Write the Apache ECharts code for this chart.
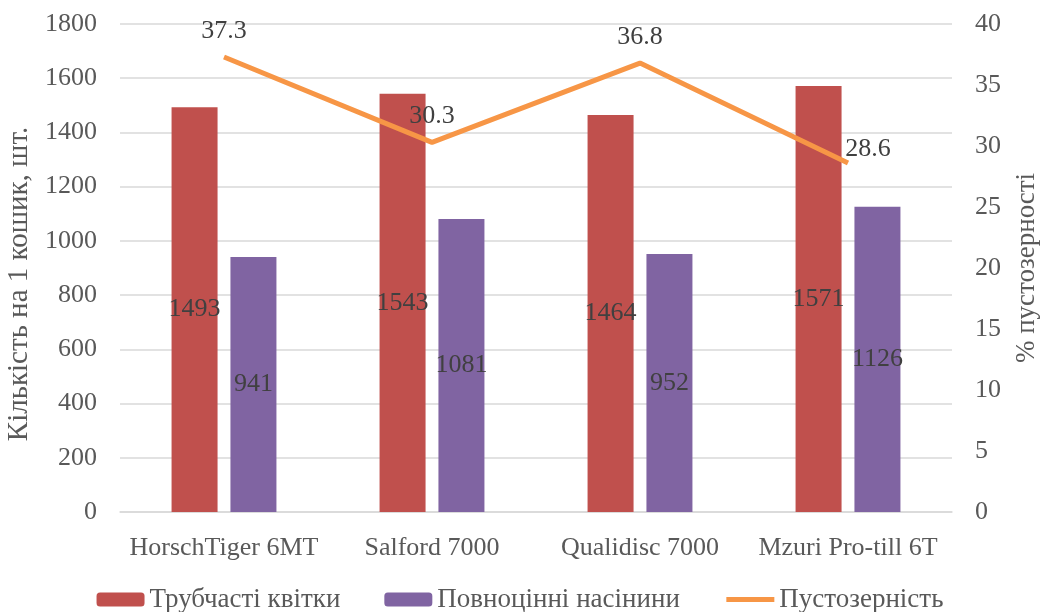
<!DOCTYPE html>
<html><head><meta charset="utf-8">
<script src="https://cdn.jsdelivr.net/npm/echarts@6/dist/echarts.min.js"></script>
<style>html,body{margin:0;padding:0;background:#fff}#c{width:1040px;height:612px}</style>
</head><body><div id="c"></div>
<script>
const categories = ['HorschTiger 6MT', 'Salford 7000', 'Qualidisc 7000', 'Mzuri Pro-till 6T'];
const tubularFlowers = [1493, 1543, 1464, 1571];
const fullSeeds = [941, 1081, 952, 1126];
const emptiness = [37.3, 30.3, 36.8, 28.6];
const leftTicks = [0, 1800, 200];
const rightTicks = [0, 40, 5];

const FONT = 'Liberation Serif';
const FS = 26;
const chart = echarts.init(document.getElementById('c'));
chart.setOption({
  animation: false,
  textStyle: { fontFamily: FONT },
  grid: { left: 120, right: 88, top: 24, bottom: 100, containLabel: false, outerBoundsMode: 'none' },
  legend: {
    bottom: -6, left: 'center', itemWidth: 48, itemHeight: 14, itemGap: 44,
    textStyle: { fontFamily: FONT, fontSize: 27, color: '#595959' },
    data: ['Трубчасті квітки', 'Повноцінні насінини',
      { name: 'Пустозерність', lineStyle: { width: 5, color: '#F79646' } }]
  },
  xAxis: {
    type: 'category', data: categories,
    axisLine: { lineStyle: { color: '#D9D9D9', width: 1.5 } },
    axisTick: { show: false },
    axisLabel: { fontFamily: FONT, fontSize: FS, color: '#595959', margin: 23, interval: 0 }
  },
  yAxis: [{
    type: 'value', min: leftTicks[0], max: leftTicks[1], interval: leftTicks[2],
    name: 'Кількість на 1 кошик, шт.', nameLocation: 'middle', nameGap: 78,
    nameTextStyle: { fontFamily: FONT, fontSize: 29, color: '#595959', padding: [0, 32, 0, 0] },
    axisLine: { show: false }, axisTick: { show: false },
    axisLabel: { fontFamily: FONT, fontSize: FS, color: '#595959', margin: 23, formatter: v => String(v) },
    splitLine: { lineStyle: { color: '#D9D9D9', width: 1.5 } }
  }, {
    type: 'value', min: rightTicks[0], max: rightTicks[1], interval: rightTicks[2],
    name: '% пустозерності', nameLocation: 'middle', nameGap: 61, nameRotate: 90,
    nameTextStyle: { fontFamily: FONT, fontSize: 27, color: '#595959' },
    axisLine: { show: false }, axisTick: { show: false },
    axisLabel: { fontFamily: FONT, fontSize: FS, color: '#595959', margin: 23, formatter: v => String(v) },
    splitLine: { show: false }
  }],
  series: [{
    name: 'Трубчасті квітки', type: 'bar', data: tubularFlowers,
    barWidth: 46, barGap: '28%',
    itemStyle: { color: '#C0504D' },
    label: { show: true, position: 'inside', fontFamily: FONT, fontSize: FS, color: '#404040' }
  }, {
    name: 'Повноцінні насінини', type: 'bar', data: fullSeeds,
    barWidth: 46,
    itemStyle: { color: '#8064A2' },
    label: { show: true, position: 'inside', fontFamily: FONT, fontSize: FS, color: '#404040' }
  }, {
    name: 'Пустозерність', type: 'line', yAxisIndex: 1,
    data: emptiness.map((v, i) => i === emptiness.length - 1
      ? { value: v, label: { offset: [20, 12] } } : v),
    symbol: 'circle', symbolSize: 2, showSymbol: true,
    lineStyle: { color: '#F79646', width: 5 },
    itemStyle: { color: 'rgba(247,150,70,0)' },
    label: { show: true, position: 'top', distance: 12, fontFamily: FONT, fontSize: FS, color: '#404040' }
  }]
});
</script></body></html>
